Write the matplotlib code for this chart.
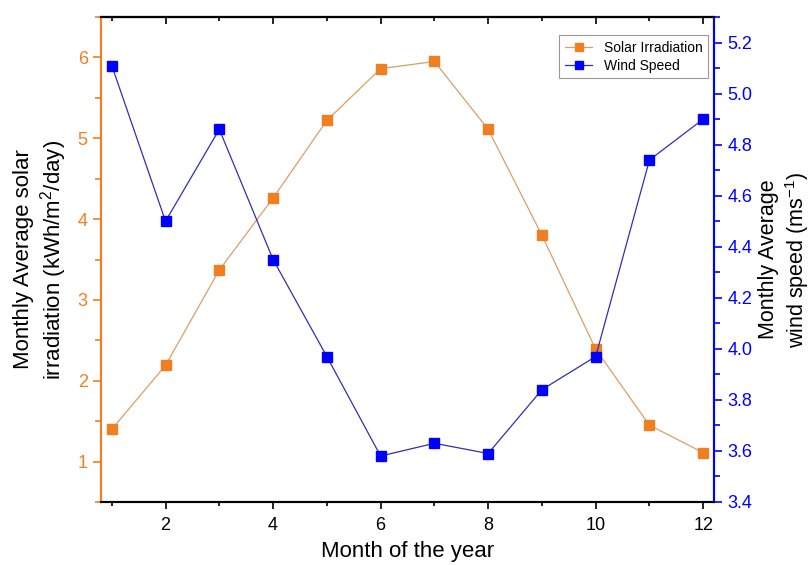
import matplotlib
matplotlib.use("Agg")
import matplotlib.pyplot as plt
from matplotlib.ticker import MultipleLocator

plt.rcParams['font.family'] = ['Liberation Sans', 'DejaVu Sans']

months = [1, 2, 3, 4, 5, 6, 7, 8, 9, 10, 11, 12]
solar = [1.40, 2.19, 3.37, 4.26, 5.22, 5.86, 5.95, 5.11, 3.80, 2.39, 1.45, 1.11]
wind = [5.11, 4.50, 4.86, 4.35, 3.97, 3.58, 3.63, 3.59, 3.84, 3.97, 4.74, 4.90]

orange = '#F07F22'
orange_line = '#D9A066'
blue = '#0000FF'
blue_line = '#3030B0'

fig = plt.figure(figsize=(8.11, 5.65), dpi=100)
ax = fig.add_axes([101/811, 63/565, (714-101)/811, (502-17)/565])
ax2 = ax.twinx()

l1, = ax.plot(months, solar, color=orange_line, lw=0.9, marker='s', ms=7,
              mfc=orange, mec=orange, label='Solar Irradiation')
l2, = ax2.plot(months, wind, color=blue_line, lw=0.9, marker='s', ms=7,
               mfc=blue, mec=blue, label='Wind Speed')

ax.set_xlim(0.8, 12.2)
ax.set_ylim(0.5, 6.5)
ax2.set_ylim(3.4, 5.3)

ax.xaxis.set_major_locator(MultipleLocator(2))
ax.xaxis.set_minor_locator(MultipleLocator(1))
ax.yaxis.set_major_locator(MultipleLocator(1))
ax.yaxis.set_minor_locator(MultipleLocator(0.5))
ax2.yaxis.set_major_locator(MultipleLocator(0.2))
ax2.yaxis.set_minor_locator(MultipleLocator(0.1))
ax2.yaxis.set_major_formatter(matplotlib.ticker.FormatStrFormatter('%.1f'))

for a in (ax, ax2):
    a.spines['top'].set_color('black')
    a.spines['bottom'].set_color('black')
    a.spines['left'].set_color(orange)
    a.spines['right'].set_color(blue)
    for s in a.spines.values():
        s.set_linewidth(1.5)

ax.tick_params(axis='x', which='both', direction='out', top=False, bottom=True,
               labelsize=13, colors='black', width=1.2, pad=6)
ax.tick_params(axis='x', which='major', length=5)
ax.tick_params(axis='x', which='minor', length=3)
secx = ax.secondary_xaxis('top')
secx.xaxis.set_major_locator(MultipleLocator(2))
secx.xaxis.set_minor_locator(MultipleLocator(1))
secx.tick_params(which='both', direction='in', labeltop=False, width=1.2)
secx.tick_params(which='major', length=5)
secx.tick_params(which='minor', length=3)
secx.spines['top'].set_linewidth(1.5)

ax.tick_params(axis='y', which='both', direction='out', colors=orange,
               labelsize=13, width=1.2)
ax.tick_params(axis='y', which='major', length=6)
ax.tick_params(axis='y', which='minor', length=4)
ax2.tick_params(axis='y', which='both', direction='out', colors=blue,
                labelsize=13, width=1.2)
ax2.tick_params(axis='y', which='major', length=6)
ax2.tick_params(axis='y', which='minor', length=4)

ax.set_xlabel('Month of the year', fontsize=16, labelpad=5)
ax.set_ylabel('Monthly Average solar\nirradiation (kWh/m$^\\mathregular{2}$/day)',
              fontsize=16, labelpad=6)
ax2.set_ylabel('Monthly Average\nwind speed (ms$^\\mathregular{-1}$)', fontsize=15.5,
               rotation=90, labelpad=4)

leg = ax.legend(handles=[l1, l2], loc='upper right', fontsize=10,
                bbox_to_anchor=(0.99, 0.963), borderaxespad=0, frameon=True,
                fancybox=False, edgecolor='#808080', handlelength=2.0,
                borderpad=0.4, labelspacing=0.3, markerscale=0.85)
leg.get_frame().set_linewidth(0.8)

fig.savefig('out.png', dpi=100)
